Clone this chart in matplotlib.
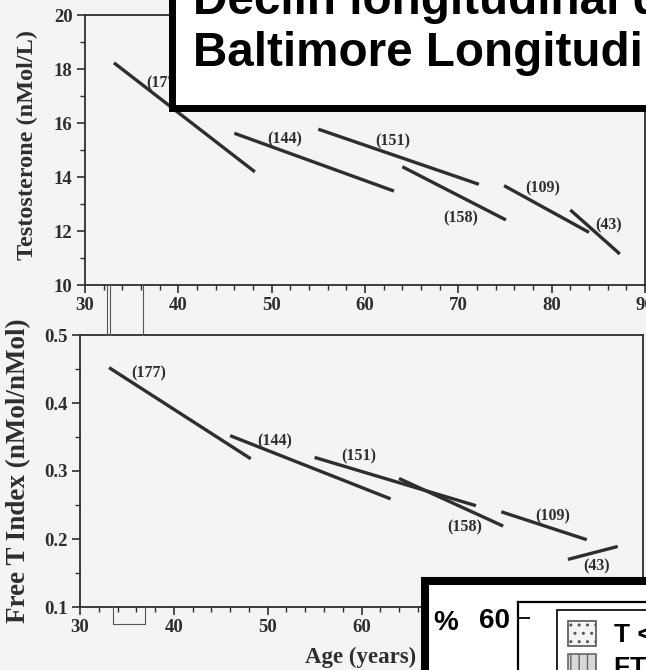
import matplotlib.pyplot as plt
from matplotlib.lines import Line2D
from matplotlib.patches import Patch, Rectangle
from matplotlib.ticker import MultipleLocator

# Cohort regression segments (age start/end, value start/end)
cohorts = ["(177)", "(144)", "(151)", "(158)", "(109)", "(43)"]
age_start = [33.1, 46.0, 55.0, 64.0, 74.9, 82.0]
age_end = [48.2, 63.1, 72.2, 75.1, 84.0, 87.3]

t_start = [18.23, 15.62, 15.77, 14.38, 13.68, 12.78]
t_end = [14.19, 13.48, 13.73, 12.41, 11.95, 11.15]
t_label_x = [38.4, 51.4, 63.0, 70.2, 79.0, 86.1]
t_label_y = [17.47, 15.40, 15.31, 12.47, 13.58, 12.22]

ft_start = [0.452, 0.352, 0.320, 0.289, 0.240, 0.170]
ft_end = [0.318, 0.259, 0.249, 0.219, 0.199, 0.189]
ft_label_x = [37.3, 50.7, 59.7, 71.0, 80.4, 85.0]
ft_label_y = [0.444, 0.344, 0.322, 0.217, 0.233, 0.159]

W, H = 646, 670
PAPER = "#f4f4f2"
INK = "#2e2e2e"
SERIF = "Liberation Serif"
SANS = "Liberation Sans"


def px_box(left, top, right, bottom):
    """Pixel box (origin top-left) -> figure fraction [l, b, w, h]."""
    return [left / W, 1 - bottom / H, (right - left) / W, (bottom - top) / H]


def style_axes(ax):
    ax.set_facecolor(PAPER)
    for s in ax.spines.values():
        s.set_linewidth(1.3)
        s.set_color(INK)
    ax.tick_params(which="major", direction="out", length=6, width=1.2,
                   pad=3, labelsize=13.5, colors=INK)
    ax.tick_params(which="minor", direction="out", length=3.5, width=1.0,
                   colors=INK)
    for lab in ax.get_xticklabels() + ax.get_yticklabels():
        lab.set_fontfamily(SERIF)
        lab.set_fontweight("bold")
    ax.xaxis.set_major_locator(MultipleLocator(10))
    ax.xaxis.set_minor_locator(MultipleLocator(2))
    ax.set_xlim(30, 90)


fig = plt.figure(figsize=(W / 100, H / 100), dpi=100, facecolor=PAPER)

# --- Top panel: testosterone ---
ax1 = fig.add_axes(px_box(85, 15, 645, 285))
for a0, a1, v0, v1 in zip(age_start, age_end, t_start, t_end):
    ax1.plot([a0, a1], [v0, v1], color=INK, lw=2.4, solid_capstyle="butt")
for lab, x, y in zip(cohorts, t_label_x, t_label_y):
    ax1.text(x, y, lab, ha="center", va="center", fontsize=11.5,
             family=SERIF, fontweight="bold", color=INK)
ax1.set_ylim(10, 20)
ax1.yaxis.set_major_locator(MultipleLocator(2))
ax1.yaxis.set_minor_locator(MultipleLocator(1))
style_axes(ax1)
ax1.tick_params(axis="x", pad=3)
ax1.set_ylabel("Testosterone (nMol/L)", fontsize=17.5, family=SERIF,
               fontweight="bold", color=INK)
ax1.yaxis.set_label_coords(-0.084, 0.52)

# --- Bottom panel: free T index ---
ax2 = fig.add_axes(px_box(80, 335, 643, 607))
for a0, a1, v0, v1 in zip(age_start, age_end, ft_start, ft_end):
    ax2.plot([a0, a1], [v0, v1], color=INK, lw=2.4, solid_capstyle="butt")
for lab, x, y in zip(cohorts, ft_label_x, ft_label_y):
    ax2.text(x, y, lab, ha="center", va="center", fontsize=11.5,
             family=SERIF, fontweight="bold", color=INK)
ax2.set_ylim(0.1, 0.5)
ax2.yaxis.set_major_locator(MultipleLocator(0.1))
ax2.yaxis.set_minor_locator(MultipleLocator(0.05))
style_axes(ax2)
ax2.tick_params(axis="x", pad=3)
ax2.set_ylabel("Free T Index (nMol/nMol)", fontsize=19.5, family=SERIF,
               fontweight="bold", color=INK)
ax2.yaxis.set_label_coords(-0.086, 0.5)
ax2.set_xlabel("Age (years)", fontsize=16.5, family=SERIF,
               fontweight="bold", color=INK)
ax2.xaxis.set_label_coords(0.499, -0.145)

# thin bracket marks left over on the scan
px = fig.transFigure.inverted()
for xs, ys in [([107, 107], [285, 335]), ([110, 110], [285, 335]),
               ([143, 143], [285, 335]),
               ([113, 113, 145, 145], [607, 624, 624, 607])]:
    pts = px.transform([(x, H - y) for x, y in zip(xs, ys)])
    fig.add_artist(Line2D(pts[:, 0], pts[:, 1], transform=fig.transFigure,
                          color="#555555", lw=0.8))

# --- Title overlay (cut off by the frame) ---
fig.add_artist(Rectangle((171.5 / W, 1 - 107.5 / H), 0.8, 0.5,
                         transform=fig.transFigure, facecolor="white",
                         edgecolor="black", lw=5.0, zorder=4))
fig.text(193 / W, 1 - 14 / H, "Declin longitudinal de la testostérone",
         fontsize=34.3, family=SANS, fontweight="bold", va="baseline",
         ha="left", zorder=5)
fig.text(193 / W, 1 - 66 / H, "Baltimore Longitudinal Study",
         fontsize=34.3, family=SANS, fontweight="bold", va="baseline",
         ha="left", zorder=5)

# --- Bottom-right overlay: start of another chart ---
fig.add_artist(Rectangle((425 / W, -0.2), 0.6, 0.2 + 1 - 581 / H,
                         transform=fig.transFigure, facecolor="white",
                         edgecolor="black", lw=5.8, zorder=4))
ax3 = fig.add_axes(px_box(518, 602, 760, 810), zorder=5)
ax3.set_facecolor("none")
ax3.set_ylim(0, 65)
ax3.set_xlim(0, 1)
ax3.set_xticks([])
ax3.set_yticks([60])
ax3.set_yticklabels(["60"], fontsize=20, family=SANS, fontweight="bold")
ax3.tick_params(axis="y", direction="in", length=8.5, width=1.3, pad=6)
for side in ["right", "bottom"]:
    ax3.spines[side].set_visible(False)
for side in ["left", "top"]:
    ax3.spines[side].set_linewidth(1.6)
fig.text(446 / W, 1 - 623 / H, "%", fontsize=20, family=SANS,
         fontweight="bold", ha="center", va="center", zorder=6)

handles = [Patch(facecolor="#f4f4f4", edgecolor="#555555", hatch="..",
                 lw=1.2, label="T <"),
           Patch(facecolor="#d8d8d8", edgecolor="#666666", hatch="||",
                 lw=1.2, label="FT <")]
leg = ax3.legend(handles=handles, loc="upper left",
                 bbox_to_anchor=(557 / W, 1 - 610 / H),
                 bbox_transform=fig.transFigure, borderaxespad=0,
                 prop={"family": SANS, "size": 19, "weight": "bold"},
                 frameon=True, fancybox=False, framealpha=1,
                 edgecolor="black", handlelength=1.05, handleheight=1.05,
                 handletextpad=0.7, borderpad=0.42, labelspacing=0.25)
leg.get_frame().set_linewidth(1.2)

fig.savefig("out.png", dpi=100, facecolor=PAPER)
